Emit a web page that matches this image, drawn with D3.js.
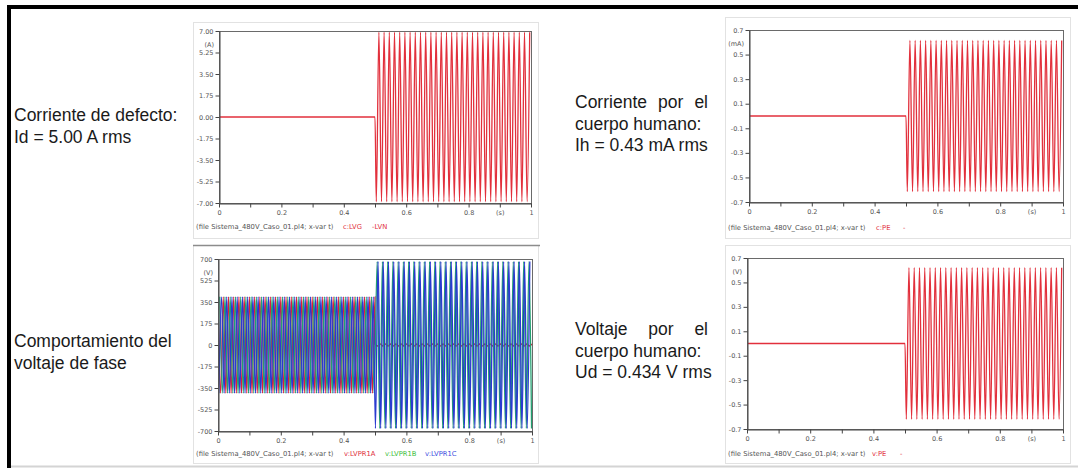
<!DOCTYPE html>
<html>
<head>
<meta charset="utf-8">
<script src="https://cdn.jsdelivr.net/npm/d3@7"></script>
<style>
  body { margin: 0; background: #fff; }
  svg { display: block; }
</style>
</head>
<body>
<svg id="chart" width="1078" height="468"></svg>
<script>
// ---- values ----
const timeTicks = [0, 0.1, 0.2, 0.3, 0.4, 0.5, 0.6, 0.7, 0.8, 0.9, 1];
const timeTickLabels = ["0", "", "0.2", "", "0.4", "", "0.6", "", "0.8", "(s)", "1"];
const segmentTimes = [0, 0.5, 1];   // start, fault instant, end (s)
const lineFreq = 60;                // Hz (30 cycles counted between 0.5 s and 1 s)

const idTicks = [7, 5.25, 3.5, 1.75, 0, -1.75, -3.5, -5.25, -7];
const idTickLabels = ["7.00", "5.25", "3.50", "1.75", "0.00", "-1.75", "-3.50", "-5.25", "-7.00"];
const vTicks = [700, 525, 350, 175, 0, -175, -350, -525, -700];
const vTickLabels = ["700", "525", "350", "175", "0", "-175", "-350", "-525", "-700"];
const smallTicks = [0.7, 0.5, 0.3, 0.1, -0.1, -0.3, -0.5, -0.7];
const smallTickLabels = ["0.7", "0.5", "0.3", "0.1", "-0.1", "-0.3", "-0.5", "-0.7"];

// peak of each trace before / after the fault, and its phase angle (deg)
const idPeak = [0, 6.9],    idPhase = [0, 90];      // A
const ihPeak = [0, 0.615],  ihPhase = [0, 90];      // mA
const udPeak = [0, 0.62],   udPhase = [0, 90];      // V
const vaPeak = [392, 8],    vaPhase = [0, 0];       // V, phase A
const vbPeak = [392, 679],  vbPhase = [-120, -150];
const vcPeak = [392, 679],  vcPhase = [120, 150];

const svg = d3.select("#chart");
const fontSmall = "'DejaVu Sans', Verdana, sans-serif";
const fontText = "'Liberation Sans', Arial, sans-serif";

// outer frame
svg.append("rect").attr("x", 7).attr("y", 5).attr("width", 1071).attr("height", 4).attr("fill", "#000");
svg.append("rect").attr("x", 7).attr("y", 5).attr("width", 4).attr("height", 463).attr("fill", "#000");
svg.append("line").attr("x1", 11).attr("x2", 1078).attr("y1", 466.5).attr("y2", 466.5)
  .attr("stroke", "#d4d4d4").attr("stroke-width", 2);

// points at every peak of the trace (one per half cycle), joined by the curve
function tracePoints(peaks, phases) {
  const pts = [];
  const w = 2 * Math.PI * lineFreq;
  for (let s = 0; s < peaks.length; s++) {
    const from = segmentTimes[s], to = segmentTimes[s + 1];
    if (peaks[s] === 0) {
      pts.push([from, 0], [to, 0]);
      continue;
    }
    const phi = phases[s] * Math.PI / 180;
    const k0 = Math.ceil((w * from + phi) / Math.PI - 1e-9);
    const k1 = Math.floor((w * to + phi) / Math.PI + 1e-9);
    for (let k = k0; k <= k1; k++) {
      const sign = ((k % 2) + 2) % 2 === 0 ? 1 : -1;
      pts.push([(k * Math.PI - phi) / w, sign * peaks[s]]);
    }
  }
  return pts;
}

let clipId = 0;
function drawPanel(p) {
  const g = svg.append("g");

  g.append("rect")
    .attr("x", p.box[0] + 0.5).attr("y", p.box[1] + 0.5)
    .attr("width", p.box[2] - p.box[0]).attr("height", p.box[3] - p.box[1])
    .attr("fill", "#fff").attr("stroke", "#e2e2e2");
  if (p.boxTop) {
    g.append("line").attr("x1", p.box[0]).attr("x2", p.box[2] + 2)
      .attr("y1", p.box[1] + 0.5).attr("y2", p.box[1] + 0.5)
      .attr("stroke", p.boxTop).attr("stroke-width", 1.5);
  }

  const x = d3.scaleLinear().domain([0, 1]).range([p.left, p.right]);
  const y = d3.scaleLinear().domain([p.ticks[p.ticks.length - 1], p.ticks[0]]).range([p.bottom, p.top]);

  const id = "clip" + (clipId++);
  g.append("clipPath").attr("id", id).append("rect")
    .attr("x", p.left).attr("y", p.top).attr("width", p.right - p.left).attr("height", p.bottom - p.top);

  const line = d3.line()
    .x(d => x(d[0]))
    .y(d => y(d[1]))
    .curve(d3.curveMonotoneX);

  g.append("g").attr("clip-path", "url(#" + id + ")")
    .selectAll("path")
    .data(p.traces)
    .join("path")
    .attr("d", d => line(tracePoints(d.peaks, d.phases)))
    .attr("fill", "none")
    .attr("stroke", d => d.color)
    .attr("stroke-width", 1.3);

  // plot frame
  g.append("rect")
    .attr("x", p.left + 0.5).attr("y", p.top + 0.5)
    .attr("width", p.right - p.left).attr("height", p.bottom - p.top)
    .attr("fill", "none").attr("stroke", "#6a6a6a");

  const yAxis = d3.axisLeft(y)
    .tickValues(p.ticks)
    .tickFormat((d, i) => p.tickLabels[i])
    .tickSize(4).tickSizeOuter(0).tickPadding(2);
  const ya = g.append("g").attr("transform", "translate(" + (p.left + 0.5) + ",0)").call(yAxis);

  const xAxis = d3.axisBottom(x)
    .tickValues(timeTicks)
    .tickFormat((d, i) => timeTickLabels[i])
    .tickSize(4).tickSizeOuter(0).tickPadding(3);
  const xa = g.append("g").attr("transform", "translate(0," + (p.bottom + 0.5) + ")").call(xAxis);

  [ya, xa].forEach(a => {
    a.select(".domain").attr("stroke", "#444");
    a.selectAll(".tick line").attr("stroke", "#444");
    a.selectAll("text").attr("font-family", fontSmall).attr("font-size", 6.5).attr("fill", "#555");
  });

  g.append("text")
    .attr("x", p.left - 5).attr("y", p.top + 16)
    .attr("text-anchor", "end")
    .attr("font-family", fontSmall).attr("font-size", 6.5).attr("fill", "#555")
    .text(p.unit);

  g.append("text")
    .attr("x", p.box[0] + 3).attr("y", p.capY)
    .attr("font-family", fontSmall).attr("font-size", 6.8).attr("fill", "#555")
    .text("(file Sistema_480V_Caso_01.pl4; x-var t)");
  p.legend.forEach(l => {
    g.append("text")
      .attr("x", l.x).attr("y", p.capY)
      .attr("font-family", fontSmall).attr("font-size", 6.8).attr("fill", l.color)
      .text(l.text);
  });
}

const red = "#e2303c";

drawPanel({
  box: [193, 22, 538, 238], left: 219, right: 531, top: 31, bottom: 203, capY: 229,
  ticks: idTicks, tickLabels: idTickLabels, unit: "(A)",
  traces: [{ peaks: idPeak, phases: idPhase, color: red }],
  legend: [{ x: 343, text: "c:LVG", color: red }, { x: 372, text: "-LVN", color: red }]
});

drawPanel({
  box: [193, 245, 538, 463], boxTop: "#8c8c8c", left: 218, right: 532, top: 259, bottom: 431, capY: 456,
  ticks: vTicks, tickLabels: vTickLabels, unit: "(V)",
  traces: [
    { peaks: vaPeak, phases: vaPhase, color: "#d8203a" },
    { peaks: vbPeak, phases: vbPhase, color: "#22a070" },
    { peaks: vcPeak, phases: vcPhase, color: "#2a3ad0" }
  ],
  legend: [
    { x: 344, text: "v:LVPR1A", color: "#e03040" },
    { x: 385, text: "v:LVPR1B", color: "#40c040" },
    { x: 425, text: "v:LVPR1C", color: "#4050e0" }
  ]
});

drawPanel({
  box: [725, 17, 1070, 238], left: 749, right: 1063, top: 30, bottom: 202, capY: 230,
  ticks: smallTicks, tickLabels: smallTickLabels, unit: "(mA)",
  traces: [{ peaks: ihPeak, phases: ihPhase, color: red }],
  legend: [{ x: 876, text: "c:PE", color: red }, { x: 903, text: "-", color: red }]
});

drawPanel({
  box: [725, 245, 1070, 463], left: 747, right: 1063, top: 258, bottom: 429, capY: 456,
  ticks: smallTicks, tickLabels: smallTickLabels, unit: "(V)",
  traces: [{ peaks: udPeak, phases: udPhase, color: red }],
  legend: [{ x: 872, text: "v:PE", color: red }, { x: 900, text: "-", color: red }]
});

// side texts
function textBlock(x, y0, lines, width) {
  lines.forEach((ln, i) => {
    const yy = y0 + i * 21.5;
    if (width && ln.justify) {
      const words = ln.text.split(" ");
      const nodes = words.map(w => svg.append("text")
        .attr("y", yy).attr("font-family", fontText).attr("font-size", 17.5).attr("fill", "#1a1a1a").text(w));
      const total = d3.sum(nodes, n => n.node().getComputedTextLength());
      const gap = (width - total) / (words.length - 1);
      let cx = x;
      nodes.forEach(n => { n.attr("x", cx); cx += n.node().getComputedTextLength() + gap; });
    } else {
      svg.append("text").attr("x", x).attr("y", yy)
        .attr("font-family", fontText).attr("font-size", 17.5).attr("fill", "#1a1a1a").text(ln.text);
    }
  });
}

textBlock(14, 121, [{ text: "Corriente de defecto:" }, { text: "Id = 5.00 A rms" }]);
textBlock(14, 347, [{ text: "Comportamiento del" }, { text: "voltaje de fase" }]);
textBlock(575, 108, [{ text: "Corriente por el", justify: true }, { text: "cuerpo humano:" }, { text: "Ih = 0.43 mA rms" }], 133);
textBlock(575, 335, [{ text: "Voltaje por el", justify: true }, { text: "cuerpo humano:" }, { text: "Ud = 0.434 V rms" }], 133);
</script>
</body>
</html>
